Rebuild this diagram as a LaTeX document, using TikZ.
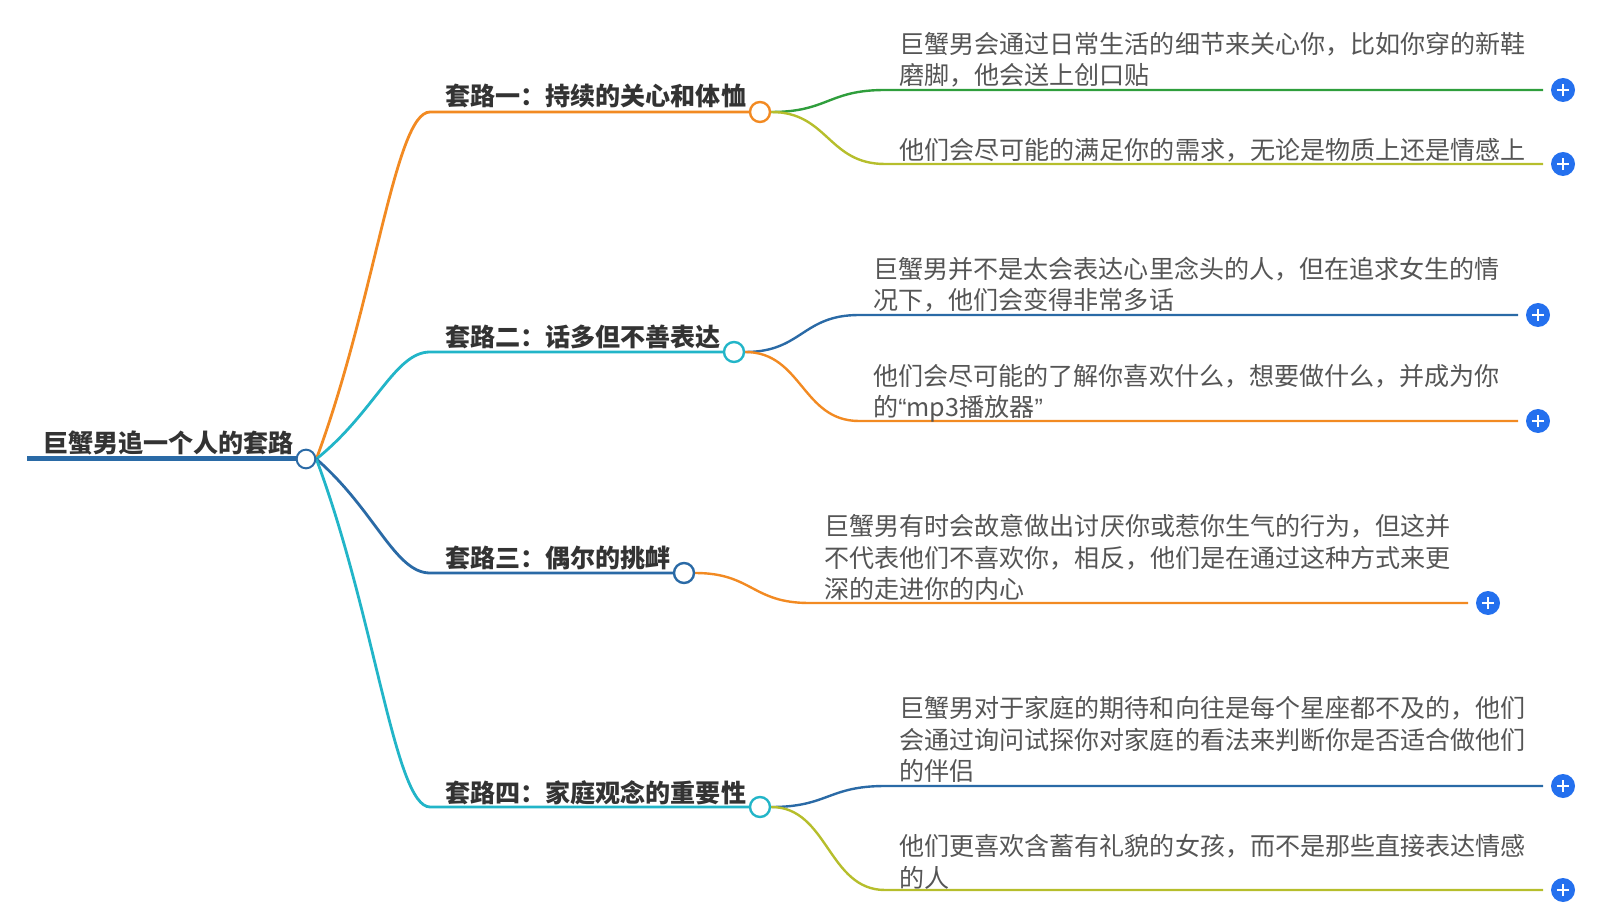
\documentclass[tikz,border=0pt]{standalone}
\usepackage{fontspec}
\setmainfont{Noto Sans CJK SC}
\newfontfamily\latinq{Liberation Sans}
\usetikzlibrary{backgrounds}
\definecolor{cDark}{HTML}{2A6AA6}
\definecolor{cOrange}{HTML}{F28A22}
\definecolor{cCyan}{HTML}{22B5C8}
\definecolor{cGreen}{HTML}{2F9E3C}
\definecolor{cOlive}{HTML}{B6BE2C}
\definecolor{cPlus}{HTML}{2470EE}
\definecolor{cTitle}{HTML}{333333}
\definecolor{cLeaf}{HTML}{555555}
\begin{document}
\begin{tikzpicture}[x=0.75pt,y=-0.75pt,
  rootline/.style={line width=3.75pt, cDark},
  branchline/.style={line width=2.1pt},
  leafline/.style={line width=1.8pt},
  knob/.style={circle, fill=white, draw=#1, line width=1.8pt, minimum size=15pt, inner sep=0pt},
  plusbtn/.style={circle, fill=cPlus, minimum size=18pt, inner sep=0pt, outer sep=6pt,
    path picture={\draw[white, line width=1.8pt]
      ([xshift=-4.6pt]path picture bounding box.center) -- ([xshift=4.6pt]path picture bounding box.center)
      ([yshift=-4.6pt]path picture bounding box.center) -- ([yshift=4.6pt]path picture bounding box.center);}},
  title/.style={anchor=base west, inner sep=0pt, text=cTitle, font=\bfseries\fontsize{18.8}{22}\selectfont},
  leaftext/.style={anchor=base west, inner sep=0pt, text=cLeaf, align=left, font=\fontsize{18.8}{23.6}\selectfont}
]
\useasboundingbox (0,0) rectangle (1603,923);

% ---------- root ----------
\coordinate (rs) at (27,459);
\node[knob=cDark, minimum size=14pt, line width=1.5pt] (root) at (306,459) {};
\node[title] (rootT) at (43,453) {巨蟹男追一个人的套路};

% ---------- branches ----------
\node[knob=cOrange] (b1) at (760,112) {};
\node[knob=cCyan]   (b2) at (734,352) {};
\node[knob=cDark]   (b3) at (684,573) {};
\node[knob=cCyan]   (b4) at (760,807) {};
\coordinate (h1) at (430,112);
\coordinate (h2) at (430,352);
\coordinate (h3) at (430,573);
\coordinate (h4) at (430,807);
\node[title] (t1) at (445,106) {套路一：持续的关心和体恤};
\node[title] (t2) at (445,347) {套路二：话多但不善表达};
\node[title] (t3) at (445,567) {套路三：偶尔的挑衅};
\node[title] (t4) at (445,802) {套路四：家庭观念的重要性};

% ---------- plus buttons ----------
\node[plusbtn] (p1a) at (1563,90) {};
\node[plusbtn] (p1b) at (1563,164) {};
\node[plusbtn] (p2a) at (1538,315) {};
\node[plusbtn] (p2b) at (1538,421) {};
\node[plusbtn] (p3a) at (1488,603) {};
\node[plusbtn] (p4a) at (1563,786) {};
\node[plusbtn] (p4b) at (1563,890) {};

\coordinate (e1a) at (885,90);
\coordinate (e1b) at (885,164);
\coordinate (e2a) at (859,315);
\coordinate (e2b) at (859,421);
\coordinate (e3a) at (809,603);
\coordinate (e4a) at (885,786);
\coordinate (e4b) at (885,890);

% ---------- leaf texts (anchored at the baseline of the last line) ----------
\node[leaftext] (l1a) at (899,85) {巨蟹男会通过日常生活的细节来关心你，比如你穿的新鞋\\磨脚，他会送上创口贴};
\node[leaftext] (l1b) at (899,160) {他们会尽可能的满足你的需求，无论是物质上还是情感上};
\node[leaftext] (l2a) at (873,309.5) {巨蟹男并不是太会表达心里念头的人，但在追求女生的情\\况下，他们会变得非常多话};
\node[leaftext] (l2b) at (873,416.5) {他们会尽可能的了解你喜欢什么，想要做什么，并成为你\\的{\latinq “}mp3播放器{\latinq ”}};
\node[leaftext] (l3a) at (824,598.5) {巨蟹男有时会故意做出讨厌你或惹你生气的行为，但这并\\不代表他们不喜欢你，相反，他们是在通过这种方式来更\\深的走进你的内心};
\node[leaftext] (l4a) at (899,780.5) {巨蟹男对于家庭的期待和向往是每个星座都不及的，他们\\会通过询问试探你对家庭的看法来判断你是否适合做他们\\的伴侣};
\node[leaftext] (l4b) at (899,887) {他们更喜欢含蓄有礼貌的女孩，而不是那些直接表达情感\\的人};

% ---------- connectors ----------
\begin{pgfonlayer}{background}
\draw[rootline] (rs) -- (root.center);
\draw[branchline, cOrange] (root.east) .. controls (375,301) and (395,112) .. (h1) -- (b1.west);
\draw[branchline, cCyan]   (root.east) .. controls (375,412) and (395,352) .. (h2) -- (b2.west);
\draw[branchline, cDark]   (root.east) .. controls (375,510) and (395,573) .. (h3) -- (b3.west);
\draw[branchline, cCyan]   (root.east) .. controls (375,616) and (395,807) .. (h4) -- (b4.west);

\draw[leafline, cGreen] (b1.east) .. controls (828,112) and (828,90) .. (e1a) -- (p1a.west);
\draw[leafline, cOlive] (b1.east) .. controls (828,112) and (828,164) .. (e1b) -- (p1b.west);
\draw[leafline, cDark]  (b2.east) .. controls (802,352) and (802,315) .. (e2a) -- (p2a.west);
\draw[leafline, cOrange](b2.east) .. controls (802,352) and (802,421) .. (e2b) -- (p2b.west);
\draw[leafline, cOrange](b3.east) .. controls (752,573) and (752,603) .. (e3a) -- (p3a.west);
\draw[leafline, cDark]  (b4.east) .. controls (828,807) and (828,786) .. (e4a) -- (p4a.west);
\draw[leafline, cOlive] (b4.east) .. controls (828,807) and (828,890) .. (e4b) -- (p4b.west);
\end{pgfonlayer}
\end{tikzpicture}
\end{document}
